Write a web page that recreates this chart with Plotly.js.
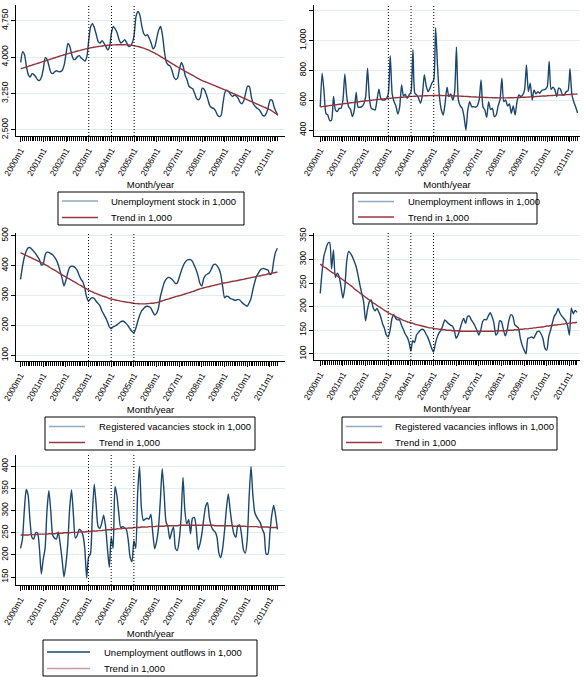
<!DOCTYPE html>
<html>
<head>
<meta charset="utf-8">
<script src="https://cdn.plot.ly/plotly-3.0.1.min.js"></script>
<style>
html,body{margin:0;padding:0;background:#fff;}
#chart{width:584px;height:677px;}
</style>
</head>
<body>
<div id="chart"></div>
<script>
// ---------------- DATA ----------------
const months = [];
for (let y = 2000; y <= 2011; y++) { for (let m = 1; m <= 12; m++) { months.push(y + 'm' + m); } }
months.length = 137; // 2000m1 .. 2011m5

const yearTickLabels = ['2000m1','2001m1','2002m1','2003m1','2004m1','2005m1','2006m1','2007m1','2008m1','2009m1','2010m1','2011m1'];
const eventMonths = ['2003m1','2004m1','2005m1'];

const unempStock = [
3890,4110,4050,3810,3640,3590,3660,3640,3590,3530,3520,3590,
3770,3990,3950,3810,3680,3660,3700,3720,3700,3700,3730,3840,
4080,4280,4220,4050,3950,3960,4010,4030,3980,3950,3920,4010,
4360,4630,4690,4600,4460,4320,4290,4340,4290,4220,4150,4220,
4500,4630,4580,4500,4360,4290,4320,4360,4300,4220,4230,4290,
4460,4840,4940,4870,4650,4490,4440,4460,4390,4290,4170,4220,
4400,4560,4630,4450,4120,3900,3840,3820,3730,3590,3540,3570,
3760,3890,3800,3620,3530,3400,3370,3350,3250,3150,3120,3170,
3360,3340,3250,3130,3000,2960,2945,2900,2810,2775,2800,3050,
3270,3320,3290,3230,3190,3220,3200,3150,3070,3040,3100,3260,
3400,3390,3180,3040,2990,2950,2920,2870,2800,2790,2850,2980,
3120,3110,2980,2880,2800];
const unempStockTrend = [
3760,3773,3785,3798,3810,3823,3836,3848,3861,3873,3886,3898,
3911,3924,3936,3949,3961,3974,3987,3999,4012,4024,4037,4049,
4062,4073,4083,4094,4104,4115,4125,4135,4145,4155,4165,4175,
4186,4193,4199,4206,4212,4218,4223,4228,4233,4238,4243,4247,
4250,4252,4253,4254,4255,4255,4255,4254,4252,4249,4246,4241,
4235,4227,4218,4208,4197,4184,4170,4155,4138,4120,4100,4080,
4060,4036,4012,3988,3964,3940,3916,3892,3868,3844,3820,3797,
3775,3753,3731,3709,3687,3665,3643,3622,3601,3580,3559,3538,
3518,3502,3486,3470,3454,3438,3422,3406,3390,3374,3358,3342,
3326,3309,3292,3275,3258,3241,3224,3207,3190,3173,3156,3138,
3119,3102,3085,3068,3051,3034,3017,3000,2983,2966,2949,2931,
2913,2888,2862,2836,2810];

const unempInflows = [
557,782,660,512,501,463,467,625,535,524,546,546,
602,777,625,557,539,490,535,652,553,553,557,575,
625,816,613,546,539,535,602,674,613,602,602,613,
647,899,647,591,562,508,557,703,629,640,613,636,
658,939,647,636,613,580,636,771,697,658,681,715,
737,1085,827,625,535,501,580,688,625,643,602,652,
957,602,562,546,490,400,535,591,557,557,553,562,
602,737,557,535,485,591,539,546,490,501,562,602,
748,591,602,562,575,512,562,501,591,636,625,636,
670,838,658,715,602,670,643,658,647,665,670,674,
692,861,674,688,670,625,681,674,636,636,658,665,
812,640,590,555,515];
const unempInflowsTrend = [
555,557,559,560,562,564,566,567,569,571,573,574,
576,578,579,581,583,584,586,588,589,591,593,594,
596,597,599,600,602,603,605,606,607,609,610,612,
613,614,615,616,617,618,619,620,621,622,623,625,
626,626,627,628,628,629,629,630,630,631,631,632,
632,632,632,632,632,631,631,631,630,630,630,629,
629,628,628,627,626,626,625,624,623,623,622,621,
621,620,620,619,619,618,618,617,617,617,616,616,
616,616,616,616,617,617,617,618,618,619,619,620,
620,621,622,623,623,624,625,626,627,628,629,629,
630,631,632,632,633,634,635,635,636,637,638,638,
639,640,641,641,642];

const vacStock = [
354,396,428,448,459,460,455,447,440,430,420,402,
405,435,445,444,440,436,428,418,402,380,358,332,
350,376,394,398,397,393,384,368,355,345,325,295,
281,289,293,290,281,274,266,250,238,226,212,195,
189,195,198,202,207,212,215,212,206,198,188,180,
175,190,212,232,248,255,262,264,263,258,245,235,
240,258,295,320,342,354,360,360,355,348,340,342,
360,380,398,410,418,420,420,414,400,385,365,340,
332,358,368,372,376,388,402,405,400,390,370,330,
292,298,296,290,288,285,284,287,285,278,272,268,
264,275,290,320,345,365,376,386,390,390,387,385,
370,375,415,445,458];
const vacStockTrend = [
443,440,437,434,431,428,425,422,419,416,413,410,
407,403,400,396,392,388,385,381,377,373,369,366,
362,358,355,351,347,344,340,336,333,329,325,322,
318,315,312,309,307,304,302,299,297,295,293,290,
288,287,285,284,283,281,280,279,278,277,276,275,
274,273,273,272,272,272,272,273,273,274,274,275,
276,278,280,282,284,286,288,290,292,294,296,298,
299,301,303,305,307,309,311,313,315,318,320,322,
324,326,327,329,330,332,333,335,336,338,339,341,
342,343,344,346,347,348,349,350,352,353,354,356,
357,358,360,361,362,364,365,366,368,369,370,372,
373,375,376,377,379];

const vacInflows = [
228,275,308,322,334,336,280,320,262,271,264,242,
218,240,295,317,313,306,296,285,267,246,228,210,
170,193,210,214,198,191,196,189,179,164,154,140,
136,150,175,183,175,172,172,161,152,142,136,125,
106,128,124,140,145,150,152,150,142,135,124,112,
104,122,136,145,150,161,172,168,164,161,159,150,
133,140,152,166,175,164,179,180,172,166,159,150,
140,150,168,173,172,180,187,179,165,140,145,170,
168,152,138,150,172,183,180,162,158,155,133,118,
108,100,133,134,136,133,140,147,148,142,132,112,
108,136,150,166,180,186,196,186,180,175,170,160,
140,197,185,192,188];
const vacInflowsTrend = [
290,287,284,282,279,276,273,271,268,265,262,260,
257,254,251,248,245,242,238,235,232,229,226,223,
220,217,214,211,208,206,203,200,198,195,192,190,
187,185,183,181,179,177,175,173,171,170,168,167,
166,165,163,162,161,160,159,158,157,156,155,155,
154,153,153,152,152,151,151,150,150,150,149,149,
149,149,148,148,148,148,148,148,148,148,148,148,
148,148,148,148,148,148,148,148,148,149,149,149,
149,149,149,150,150,150,150,151,151,151,152,152,
153,153,153,154,154,155,155,156,156,157,157,158,
159,159,160,160,161,161,162,162,163,163,164,164,
165,165,166,166,167];

const unempOutflows = [
215,235,300,348,335,278,240,236,250,250,215,157,
190,215,300,345,300,245,238,236,252,225,190,150,
178,225,305,347,290,238,244,258,255,245,215,148,
195,202,290,360,315,265,260,272,290,265,215,172,
240,215,355,335,295,262,264,262,258,234,195,185,
232,215,340,400,305,278,281,283,281,292,250,214,
230,260,322,395,340,275,264,236,252,263,215,210,
234,285,375,300,270,280,248,283,285,262,212,225,
248,282,310,318,283,265,256,252,240,204,194,215,
255,305,338,300,268,247,240,266,268,245,212,204,
235,330,400,335,296,286,279,272,258,248,202,202,
250,290,312,290,258];
const unempOutflowsTrend = [
245,245,245,245,245,246,246,246,246,246,247,247,
247,247,247,248,248,248,248,249,249,249,249,250,
250,250,250,251,251,251,251,252,252,252,252,253,
253,253,254,254,254,255,255,255,256,256,257,257,
258,258,258,259,259,259,260,260,260,261,261,261,
262,262,262,262,263,263,263,263,264,264,264,264,
265,265,265,265,265,266,266,266,266,266,266,266,
267,267,267,267,267,267,267,267,267,267,267,267,
267,267,267,267,267,267,267,266,266,266,266,266,
266,266,266,266,266,265,265,265,265,265,265,265,
264,264,264,264,264,264,263,263,263,263,263,263,
262,262,262,262,262];

const stockTicks = [2500, 3250, 4000, 4750];
const stockTickText = ['2,500', '3,250', '4,000', '4,750'];
const inflowTicks = [400, 600, 800, 1000, 1200];
const inflowTickText = ['400', '600', '800', '1,000', '1,200'];
const vacStockTicks = [100, 200, 300, 400, 500];
const vacInflowTicks = [100, 150, 200, 250, 300, 350];
const outflowTicks = [150, 200, 250, 300, 350, 400];

const seriesNames = ['Unemployment stock in 1,000', 'Unemployment inflows in 1,000',
  'Registered vacancies stock in 1,000', 'Registered vacancies inflows in 1,000',
  'Unemployment outflows in 1,000'];
const trendName = 'Trend in 1,000';

// ---------------- LAYOUT ----------------
const W = 584, H = 677;
const NAVY = '#1a476f', MAROON = '#90353b', GRID = '#e2edf0';
const FONT = 'Liberation Sans, Arial, Helvetica, sans-serif';
const xIdx = months.map((_, i) => i);
const yearTickVals = yearTickLabels.map(l => months.indexOf(l));
const eventIdx = eventMonths.map(l => months.indexOf(l));

// panel boxes in pixels: [left, right, top, bottom]
const boxes = [
  [16, 285, 5, 136],
  [314, 580, 5, 136],
  [16, 285, 233, 361],
  [314, 580, 233, 360],
  [16, 285, 455, 585]
];
const xRanges = [[-2.5, 139.8], [-3.3, 137.3], [-2.4, 140], [-3.3, 137.6], [-2.4, 140]];
const yRanges = [[2376, 5073], [360, 1240], [81, 509], [87, 356], [132, 426]];
const yTicks = [
  [stockTicks, stockTickText],
  [inflowTicks, inflowTickText],
  [vacStockTicks, vacStockTicks.map(String)],
  [vacInflowTicks, vacInflowTicks.map(String)],
  [outflowTicks, outflowTicks.map(String)]
];
const seriesData = [unempStock, unempInflows, vacStock, vacInflows, unempOutflows];
const trendData = [unempStockTrend, unempInflowsTrend, vacStockTrend, vacInflowsTrend, unempOutflowsTrend];

// legend boxes (px): left, right, top, bottom, row1 y, row2 y, sample x0, sample x1, text x, sample colours
const legendBoxes = [
  {l: 58, r: 244, t: 192, b: 225, r1: 201, r2: 217.5, s0: 62, s1: 98, tx: 109, c1: '#8fa9c0', c2: '#9a3a40'},
  {l: 353, r: 537, t: 193, b: 224, r1: 201.5, r2: 217, s0: 358, s1: 394, tx: 406, c1: '#8fa9c0', c2: '#9a3a40'},
  {l: 45, r: 255, t: 417, b: 450, r1: 426.5, r2: 442.5, s0: 49, s1: 85, tx: 96.5, c1: '#8fa9c0', c2: '#9a3a40'},
  {l: 342, r: 557, t: 417, b: 450, r1: 426.5, r2: 442.5, s0: 346, s1: 382, tx: 393.5, c1: '#8fa9c0', c2: '#9a3a40'},
  {l: 43, r: 257, t: 640, b: 676, r1: 652, r2: 668.5, s0: 47, s1: 90, tx: 101.5, c1: '#1a476f', c2: '#c99a9e'}
];

const layout = {
  width: W, height: H,
  margin: {l: 0, r: 0, t: 0, b: 0},
  paper_bgcolor: '#fff', plot_bgcolor: '#fff',
  font: {family: FONT, color: '#000', size: 9},
  shapes: [], annotations: [],
  showlegend: false
};
const traces = [];
const px = v => v / W, py = v => 1 - v / H;

for (let p = 0; p < 5; p++) {
  const suf = p === 0 ? '' : String(p + 1);
  const [l, r, t, b] = boxes[p];
  const xa = 'x' + suf, ya = 'y' + suf;
  layout['xaxis' + suf] = {
    domain: [l / W, r / W], anchor: ya, range: xRanges[p],
    tickmode: 'array', tickvals: yearTickVals, ticktext: yearTickLabels,
    tickangle: -60, ticks: 'outside', ticklen: 5, tickcolor: '#000', tickwidth: 1,
    tickfont: {size: 8.5, family: FONT, color: '#000'},
    minor: {tickmode: 'array', tickvals: xIdx, ticks: 'outside', ticklen: 4, tickcolor: '#000', tickwidth: 1, showgrid: false},
    showline: true, linecolor: '#000', linewidth: 1,
    showgrid: false, zeroline: false, fixedrange: true, automargin: false,
    title: {text: 'Month/year', font: {size: 9.5, family: FONT, color: '#000'}, standoff: 4}
  };
  layout['yaxis' + suf] = {
    domain: [1 - b / H, 1 - t / H], anchor: xa, range: yRanges[p],
    tickmode: 'array', tickvals: yTicks[p][0], ticktext: yTicks[p][1],
    tickangle: -90, ticks: 'outside', ticklen: 4, tickcolor: '#000',
    tickfont: {size: 8.5, family: FONT, color: '#000'},
    showline: true, linecolor: '#000', linewidth: 1, automargin: false,
    showgrid: true, gridcolor: GRID, gridwidth: 1, zeroline: false, fixedrange: true
  };
  eventIdx.forEach(ei => {
    layout.shapes.push({
      type: 'line', xref: xa, yref: ya + ' domain', x0: ei, x1: ei, y0: 0, y1: 1,
      line: {color: '#000', width: 1, dash: '1px,2px'}
    });
  });
  traces.push({
    type: 'scatter', mode: 'lines', x: xIdx, y: seriesData[p], xaxis: xa, yaxis: ya,
    name: seriesNames[p], showlegend: false,
    line: {color: NAVY, width: 1.4, shape: 'spline', smoothing: 0.6}
  });
  traces.push({
    type: 'scatter', mode: 'lines', x: xIdx, y: trendData[p], xaxis: xa, yaxis: ya,
    name: trendName, showlegend: false,
    line: {color: MAROON, width: 1.4, shape: 'spline'}
  });

  // legend box drawn in paper coordinates
  const lg = legendBoxes[p];
  layout.shapes.push({
    type: 'rect', xref: 'paper', yref: 'paper', x0: px(lg.l), x1: px(lg.r), y0: py(lg.b), y1: py(lg.t),
    line: {color: '#000', width: 1}, fillcolor: '#fff', layer: 'above'
  });
  [[lg.r1, lg.c1, seriesNames[p]], [lg.r2, lg.c2, trendName]].forEach(([ry, col, txt]) => {
    layout.shapes.push({
      type: 'line', xref: 'paper', yref: 'paper', x0: px(lg.s0), x1: px(lg.s1), y0: py(ry), y1: py(ry),
      line: {color: col, width: 1.6}, layer: 'above'
    });
    layout.annotations.push({
      xref: 'paper', yref: 'paper', x: px(lg.tx), y: py(ry), xanchor: 'left', yanchor: 'middle',
      text: txt, showarrow: false, font: {size: 9.5, family: FONT, color: '#000'}
    });
  });
}

Plotly.newPlot('chart', traces, layout, {staticPlot: true, displayModeBar: false});
</script>
</body>
</html>
